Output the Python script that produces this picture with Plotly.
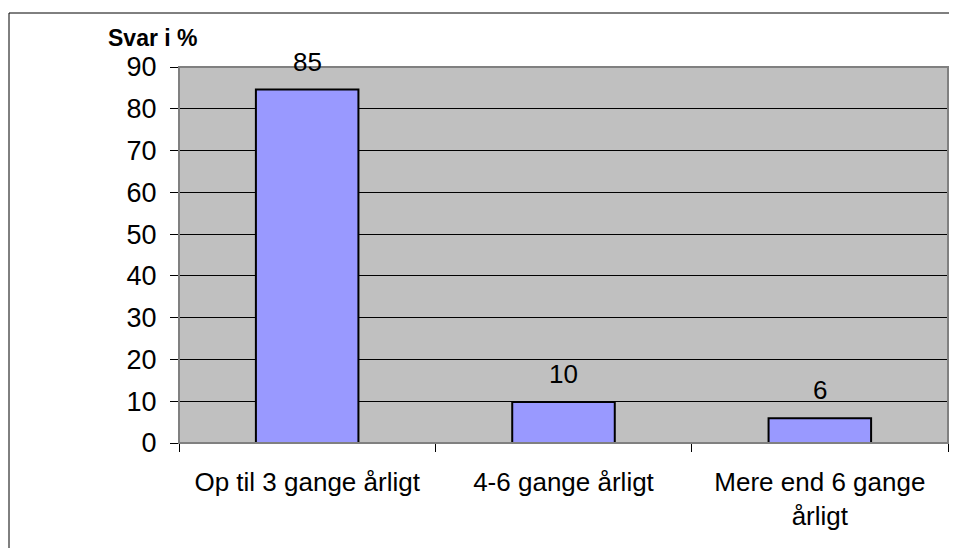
import plotly.graph_objects as go

categories = ["Op til 3 gange årligt", "4-6 gange årligt", "Mere end 6 gange<br>årligt"]
values = [84.6, 9.8, 5.9]
labels = ["85", "10", "6"]
y_ticks = [0, 10, 20, 30, 40, 50, 60, 70, 80, 90]

OFF = 8  # page body margin
W, H = 957 - OFF, 548 - OFF
L, T = 179 - OFF, 67 - OFF
pw, ph = 769, 376
R = W - L - pw
B = H - T - ph

def px(x):
    return (x - OFF - L) / pw

def py(y):
    return (T + ph - (y - OFF)) / ph

font = "Liberation Sans, Arial, sans-serif"

fig = go.Figure()
fig.add_trace(go.Bar(
    x=categories, y=values,
    marker=dict(color="#9999FF", line=dict(color="black", width=2)),
    hoverinfo="skip",
))

for c, v, t in zip(categories, values, labels):
    fig.add_annotation(x=c, y=v, text=t, showarrow=False, yanchor="bottom",
                       yshift=11, font=dict(size=26, color="black", family=font))

fig.add_annotation(x=px(153), y=py(38), xref="paper", yref="paper", text="<b>Svar i %</b>",
                   showarrow=False, xanchor="center", yanchor="middle",
                   font=dict(size=23, color="black", family=font))

# plot area border
fig.add_shape(type="rect", xref="paper", yref="paper", x0=0, x1=1, y0=0, y1=1,
              line=dict(color="#808080", width=2), layer="above")
# outer frame (top and left edges visible)
fig.add_shape(type="line", xref="paper", yref="paper", x0=px(9), x1=px(957), y0=py(13), y1=py(13),
              line=dict(color="black", width=1))
fig.add_shape(type="line", xref="paper", yref="paper", x0=px(9), x1=px(9), y0=py(13), y1=py(548),
              line=dict(color="black", width=1))

fig.update_layout(
    width=W, height=H,
    margin=dict(l=L, r=R, t=T, b=B),
    paper_bgcolor="white", plot_bgcolor="#C0C0C0",
    bargap=0.6, showlegend=False,
    font=dict(family=font, size=26, color="black"),
    xaxis=dict(type="category", tickson="boundaries", ticks="outside", ticklen=8,
               tickcolor="black", showline=True, linecolor="black", linewidth=1,
               showgrid=False, ticklabelstandoff=16, tickfont=dict(size=26)),
    yaxis=dict(range=[0, 90], tickvals=y_ticks, ticks="outside", ticklen=8, tickcolor="black",
               showline=True, linecolor="#808080", linewidth=1, showgrid=True, gridcolor="black",
               gridwidth=1, zeroline=False, ticklabelstandoff=8, tickfont=dict(size=27)),
)

fig.write_html("out.html", config={"displayModeBar": False})
